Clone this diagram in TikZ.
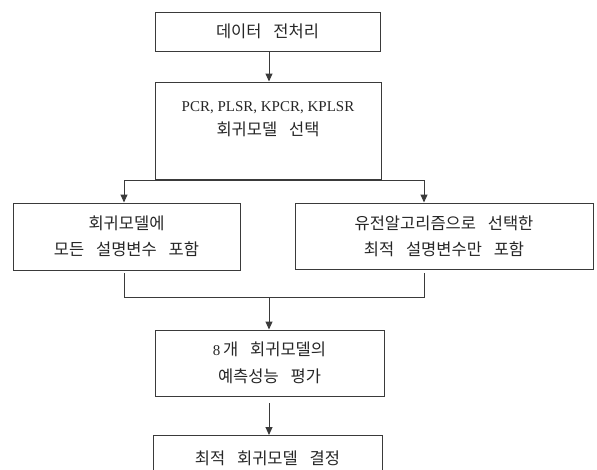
\documentclass[tikz,border=0pt]{standalone}
\usepackage{fontspec}
\setmainfont{Liberation Serif}
\newfontfamily\kr[WordSpace=3.2]{Noto Sans CJK KR}
\usetikzlibrary{arrows.meta,calc}
\definecolor{ln}{HTML}{3A3A3A}
\tikzset{
  box/.style={draw=ln, line width=1pt, align=center, inner sep=0pt, font=\kr\fontsize{16.5}{26}\selectfont, text=black!85},
  txt/.style={align=center, inner sep=0pt, font=\kr\fontsize{16.5}{23.5}\selectfont, text=black!85},
  conn/.style={draw=ln, line width=1pt},
  arr/.style={conn, -{Triangle[length=8pt,width=7pt]}}
}
\begin{document}
\begin{tikzpicture}[x=1pt,y=-1pt]
\useasboundingbox (0,0) rectangle (597,469);
\clip (0,0) rectangle (597,469);
\node[box, minimum width=225pt, minimum height=39pt] (b1) at (267.5,31.5) {데이터 전처리};
\node[box, minimum width=226pt, minimum height=97pt] (b2) at (268,130.5) {};
\node[txt] (b2t) at (268,119) {{\rmfamily\fontsize{15}{23.5}\selectfont PCR, PLSR, KPCR, KPLSR}\\회귀모델 선택};
\node[box, minimum width=227pt, minimum height=67pt] (b3) at (126.5,236.5) {회귀모델에\\모든 설명변수 포함};
\node[box, minimum width=298pt, minimum height=66pt] (b4) at (444,236) {유전알고리즘으로 선택한\\최적 설명변수만 포함};
\node[box, minimum width=229pt, minimum height=66pt, font=\kr\fontsize{16.5}{27.5}\selectfont] (b5) at (269.5,363) {{\rmfamily\fontsize{15}{25}\selectfont 8}\,개 회귀모델의\\예측성능 평가};
\node[box, minimum width=229pt, minimum height=46pt, anchor=north] (b6) at (267.5,435) {최적 회귀모델 결정};
\coordinate (s1) at (269,0);
\coordinate (s2) at (271,0);
\coordinate (bl) at (124,180);
\coordinate (br) at (424,180);
\coordinate (ml) at (124,273);
\coordinate (mr) at (424,273);
\coordinate (mm) at (269,297);
\coordinate (s5) at (269,403);
% box1 -> box2
\draw[arr] (s1 |- b1.south) -- (s1 |- b2.north);
% box2 -> branches
\draw[conn] (s2 |- b2.south) -- (s2 |- bl);
\draw[conn] (bl) -- (br);
\draw[arr] (bl) -- (bl |- b3.north);
\draw[arr] (br) -- (br |- b4.north);
% merge
\draw[conn] (ml) -- (ml |- mm) -- (mr |- mm) -- (mr);
\draw[arr] (mm) -- (mm |- b5.north);
% box5 -> box6
\draw[arr] (s5) -- (s5 |- b6.north);
\end{tikzpicture}
\end{document}
